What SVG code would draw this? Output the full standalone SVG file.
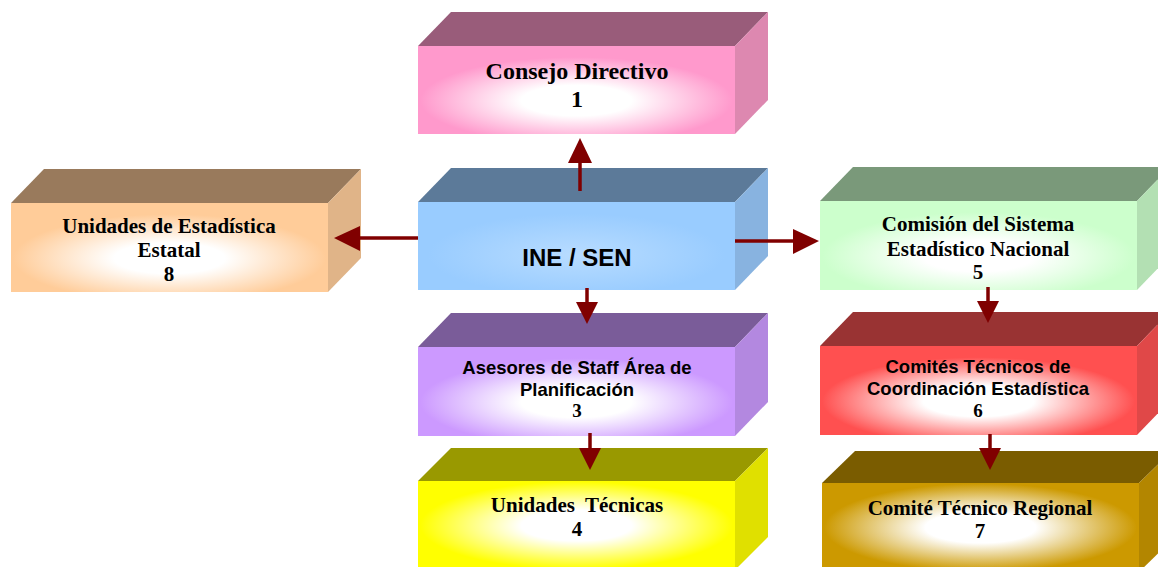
<svg xmlns="http://www.w3.org/2000/svg" width="1158" height="567" viewBox="0 0 1158 567">
<style>
.serif{font-family:"Liberation Serif","Times New Roman",serif;font-weight:bold;font-size:21px;fill:#000;text-anchor:middle}
.serifL{font-family:"Liberation Serif","Times New Roman",serif;font-weight:bold;font-size:24px;fill:#000;text-anchor:middle}
.num{font-family:"Liberation Serif","Times New Roman",serif;font-weight:bold;font-size:19px;fill:#000;text-anchor:middle}
.sans{font-family:"Liberation Sans",Arial,sans-serif;font-weight:bold;font-size:18.5px;fill:#000;text-anchor:middle}
.big{font-family:"Liberation Sans",Arial,sans-serif;font-weight:bold;font-size:24px;fill:#000;text-anchor:middle}
.conn line{stroke:#800000;stroke-width:3.5}
.conn polygon{fill:#800000}
</style>
<defs>
<radialGradient id="gPink" cx="50%" cy="62%" r="58%"><stop offset="0" stop-color="#fff"/><stop offset="0.3" stop-color="#fff"/><stop offset="0.85" stop-color="#FF99CC"/></radialGradient>
<radialGradient id="gBlue" cx="50%" cy="60%" r="55%"><stop offset="0" stop-color="#B8DCFF"/><stop offset="0.85" stop-color="#99CCFF"/></radialGradient>
<radialGradient id="gPeach" cx="50%" cy="62%" r="58%"><stop offset="0" stop-color="#fff"/><stop offset="0.3" stop-color="#fff"/><stop offset="0.85" stop-color="#FFCC99"/></radialGradient>
<radialGradient id="gGreen" cx="50%" cy="62%" r="58%"><stop offset="0" stop-color="#fff"/><stop offset="0.3" stop-color="#fff"/><stop offset="0.85" stop-color="#CCFFCC"/></radialGradient>
<radialGradient id="gPurple" cx="50%" cy="62%" r="58%"><stop offset="0" stop-color="#fff"/><stop offset="0.3" stop-color="#fff"/><stop offset="0.85" stop-color="#CC99FF"/></radialGradient>
<radialGradient id="gYellow" cx="50%" cy="50%" r="58%"><stop offset="0" stop-color="#fff"/><stop offset="0.3" stop-color="#fff"/><stop offset="0.85" stop-color="#FFFF00"/></radialGradient>
<radialGradient id="gRed" cx="50%" cy="62%" r="58%"><stop offset="0" stop-color="#fff"/><stop offset="0.3" stop-color="#fff"/><stop offset="0.85" stop-color="#FF5050"/></radialGradient>
<radialGradient id="gGold" cx="50%" cy="50%" r="58%"><stop offset="0" stop-color="#fff"/><stop offset="0.3" stop-color="#fff"/><stop offset="0.85" stop-color="#CC9900"/></radialGradient>
</defs>

<g id="node1">
<polygon points="418,46 451,12 768,12 735,46" fill="#995C7A"/>
<polygon points="735,46 768,12 768,100 735,134" fill="#DD88B0"/>
<rect x="418" y="46" width="317" height="88" fill="url(#gPink)"/>
<text class="serifL" x="577" y="79">Consejo Directivo</text>
<text class="serifL" x="577" y="107">1</text>
</g>

<g id="nodeINE">
<polygon points="418,202 451,168 768,168 735,202" fill="#5C7A99"/>
<polygon points="735,202 768,168 768,256 735,290" fill="#88B3E0"/>
<rect x="418" y="202" width="317" height="88" fill="url(#gBlue)"/>
<text class="big" x="577" y="266">INE / SEN</text>
</g>

<g id="node8">
<polygon points="11,203 44,169 361,169 328,203" fill="#997A5C"/>
<polygon points="328,203 361,169 361,258 328,292" fill="#E0B488"/>
<rect x="11" y="203" width="317" height="89" fill="url(#gPeach)"/>
<text class="serif" x="169" y="233">Unidades de Estadística</text>
<text class="serif" x="169" y="257">Estatal</text>
<text class="serif" x="169" y="281">8</text>
</g>

<g id="node5">
<polygon points="820,201 853,167 1170,167 1137,201" fill="#7A997A"/>
<polygon points="1137,201 1170,167 1170,256 1137,290" fill="#B3E0B3"/>
<rect x="820" y="201" width="317" height="89" fill="url(#gGreen)"/>
<text class="serif" x="978" y="231">Comisión del Sistema</text>
<text class="serif" x="978" y="256">Estadístico Nacional</text>
<text class="serif" x="978" y="279">5</text>
</g>

<g id="node3">
<polygon points="418,347 451,313 768,313 735,347" fill="#7A5C99"/>
<polygon points="735,347 768,313 768,402 735,436" fill="#B388E0"/>
<rect x="418" y="347" width="317" height="89" fill="url(#gPurple)"/>
<text class="sans" x="577" y="374">Asesores de Staff Área de</text>
<text class="sans" x="577" y="396">Planificación</text>
<text class="num" x="577" y="417">3</text>
</g>

<g id="node4">
<polygon points="418,481 451,448 768,448 735,481" fill="#999900"/>
<polygon points="735,481 768,448 768,537 735,570" fill="#E0E000"/>
<rect x="418" y="481" width="317" height="89" fill="url(#gYellow)"/>
<text class="serif" x="577" y="512" xml:space="preserve">Unidades  Técnicas</text>
<text class="serif" x="577" y="536">4</text>
</g>

<g id="node6">
<polygon points="820,346 853,312 1170,312 1137,346" fill="#993333"/>
<polygon points="1137,346 1170,312 1170,401 1137,435" fill="#E04848"/>
<rect x="820" y="346" width="317" height="89" fill="url(#gRed)"/>
<text class="sans" x="978" y="373">Comités Técnicos de</text>
<text class="sans" x="978" y="395">Coordinación Estadística</text>
<text class="num" x="978" y="417">6</text>
</g>

<g id="node7">
<polygon points="822,483 855,451 1172,451 1139,483" fill="#7A5C00"/>
<polygon points="1139,483 1172,451 1172,540 1139,572" fill="#B38600"/>
<rect x="822" y="483" width="317" height="89" fill="url(#gGold)"/>
<text class="serif" x="980" y="515">Comité Técnico Regional</text>
<text class="serif" x="980" y="538">7</text>
</g>

<g id="connectors" class="conn">
<line x1="580" y1="191" x2="580" y2="160"/>
<polygon points="580,138 568,163 592,163"/>
<line x1="418" y1="238" x2="358" y2="238"/>
<polygon points="334,238 360,226 360,251"/>
<line x1="735" y1="241" x2="795" y2="241"/>
<polygon points="819,241 793,229 793,254"/>
<line x1="587" y1="288" x2="587" y2="305"/>
<polygon points="587,324 576,302 598,302"/>
<line x1="590" y1="433" x2="590" y2="450"/>
<polygon points="590,470 579,448 601,448"/>
<line x1="988" y1="287" x2="988" y2="304"/>
<polygon points="988,323 977,301 999,301"/>
<line x1="990" y1="434" x2="990" y2="450"/>
<polygon points="990,470 979,448 1001,448"/>
</g>
</svg>
